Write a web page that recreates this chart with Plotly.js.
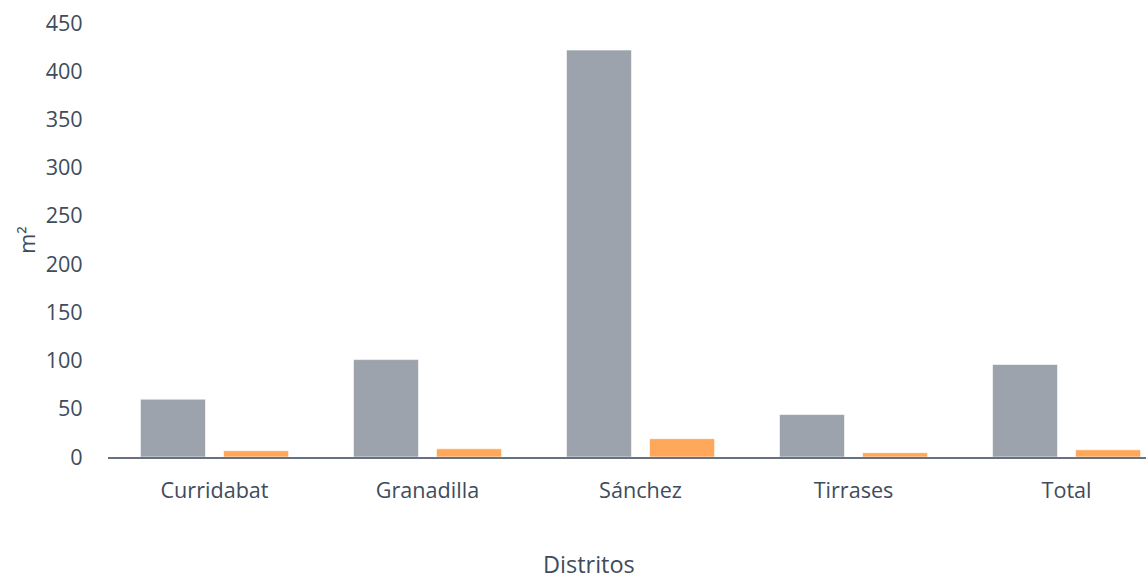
<!DOCTYPE html>
<html>
<head>
<meta charset="utf-8">
<script src="https://cdn.plot.ly/plotly-3.0.1.min.js"></script>
<style>html,body{margin:0;padding:0;background:#fff;}#chart{width:1146px;height:579px;}</style>
</head>
<body>
<div id="chart"></div>
<script>
const categories = ["Curridabat", "Granadilla", "Sánchez", "Tirrases", "Total"];
const serieGris = [60, 101, 422, 44, 96];
const serieNaranja = [6.5, 8.5, 19, 4.5, 7.5];
const yTicks = [0, 50, 100, 150, 200, 250, 300, 350, 400, 450];

const textColor = "#3E4C5C";
const font = {family: "Open Sans, Noto Sans, sans-serif", size: 21.6, color: textColor};
const titleFont = {family: "Open Sans, Noto Sans, sans-serif", size: 23.5, color: textColor};

const traces = [
  {type: "bar", x: categories, y: serieGris, name: "Serie 1",
   marker: {color: "#9CA3AD", line: {color: "rgba(255,255,255,0.6)", width: 1}}},
  {type: "bar", x: categories, y: serieNaranja, name: "Serie 2",
   marker: {color: "#FFA75A", line: {color: "rgba(255,255,255,0.6)", width: 1}}}
];

const layout = {
  width: 1146, height: 579,
  margin: {l: 108, r: 0, t: 23, b: 122, pad: 0},
  paper_bgcolor: "#fff", plot_bgcolor: "#fff",
  showlegend: false,
  barmode: "group",
  bargap: 0.22,
  bargroupgap: 0.217,
  font: font,
  xaxis: {
    type: "category",
    range: [-0.5, 4.373],
    showgrid: false, zeroline: false,
    showline: true, linecolor: "#66727F", linewidth: 1.5,
    ticks: "outside", ticklen: 14, tickcolor: "rgba(0,0,0,0)",
    tickfont: font
  },
  yaxis: {
    range: [0, 450],
    tickvals: yTicks,
    showgrid: false, zeroline: false, showline: false,
    ticks: "outside", ticklen: 20, tickcolor: "rgba(0,0,0,0)",
    tickfont: font,
    title: {text: "m²", font: font, standoff: 4}
  },
  annotations: [{
    text: "Distritos", xref: "paper", yref: "paper",
    x: (589 - 108) / 1038, y: -(564 - 457) / 434, yanchor: "middle", xanchor: "center",
    showarrow: false, font: titleFont, borderpad: 0
  }]
};

Plotly.newPlot("chart", traces, layout, {staticPlot: true, displayModeBar: false});
</script>
</body>
</html>
